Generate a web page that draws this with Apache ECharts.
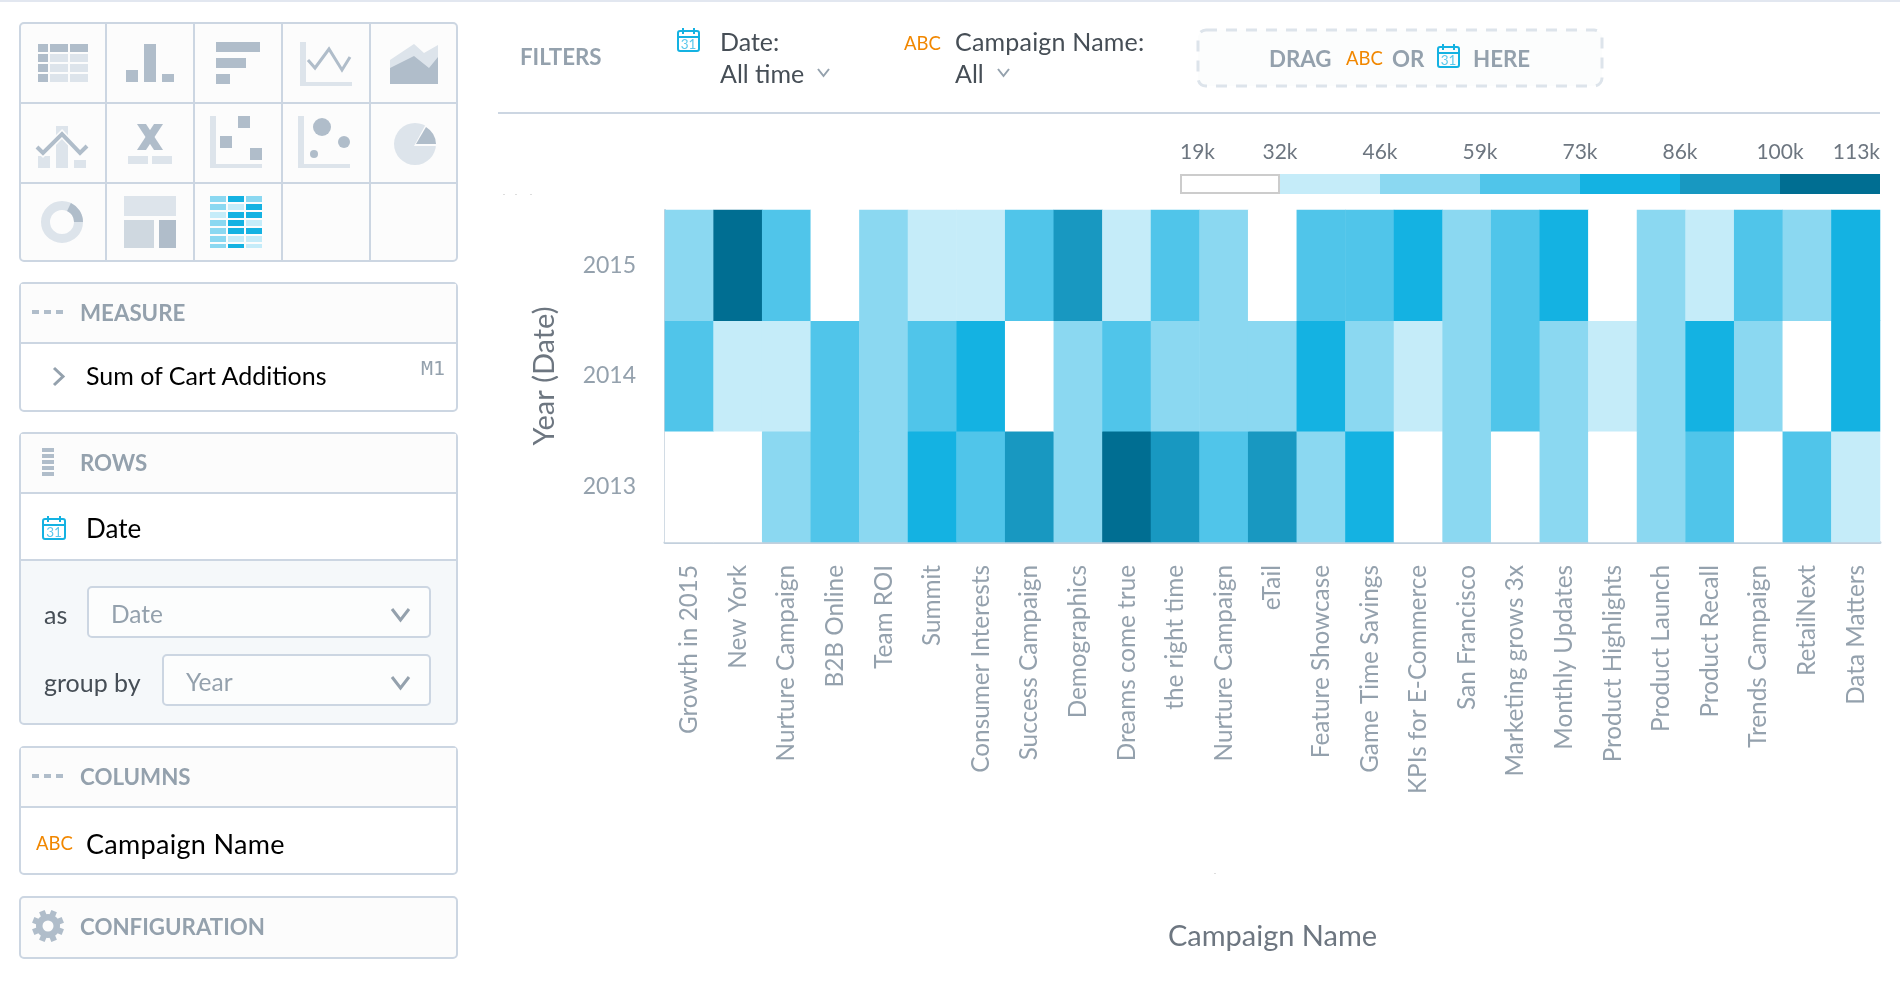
<!DOCTYPE html>
<html><head><meta charset="utf-8">
<style>
html,body{margin:0;padding:0;background:#fff;width:1900px;height:984px;overflow:hidden;font-family:Lato,sans-serif}
#chart{position:absolute;left:0;top:0;width:1900px;height:984px}
#ui{position:absolute;left:0;top:0;width:1900px;height:984px;pointer-events:none}
.box{position:absolute;box-sizing:border-box;border:2px solid #ccd6e2;border-radius:5px}
.t{position:absolute;white-space:nowrap;transform:translateY(-50%);line-height:1;margin-top:-1px}
.h{font-weight:700;font-size:22.3px;color:#94a1ad;margin-top:1px}
.b{font-size:25px;color:#000}
.d{font-size:25px;color:#464e56}
.g{font-size:24.5px;color:#94a1ad}
.a{color:#f18700;font-size:18.5px;font-weight:400;margin-top:0}
svg{position:absolute;left:0;top:0}
</style></head><body>
<div id="chart"></div>
<div id="ui"></div>
<script src="https://cdn.jsdelivr.net/npm/echarts@6/dist/echarts.min.js"></script>
<script>
const campaigns=['Growth in 2015','New York','Nurture Campaign','B2B Online','Team ROI','Summit','Consumer Interests','Success Campaign','Demographics','Dreams come true','the right time','Nurture Campaign','eTail','Feature Showcase','Game Time Savings','KPIs for E-Commerce','San Francisco','Marketing grows 3x','Monthly Updates','Product Highlights','Product Launch','Product Recall','Trends Campaign','RetailNext','Data Matters'];
const years=['2013','2014','2015'];
const values2013=[24000,26000,52000,66000,51000,78000,64000,91000,53000,107000,93000,67000,90000,50000,80000,27000,54000,25000,52000,23000,55000,65000,28000,63000,39000];
const values2014=[64000,38000,40000,66000,52000,67000,79000,28000,50000,63000,54000,53000,51000,81000,52000,37000,55000,62000,51000,41000,50000,80000,53000,25000,82000];
const values2015=[52000,108000,66000,24000,50000,38000,40000,64000,92000,36000,65000,53000,28000,67000,69000,79000,55000,62000,80000,26000,51000,39000,63000,50000,81000];
const legendBreaks=[19000,32000,46000,59000,73000,86000,100000,113000];
const legendLabels=['19k','32k','46k','59k','73k','86k','100k','113k'];
const bucketColors=['#ffffff','#c5ecf9','#8bd8f1','#50c5ea','#14b2e2','#1898c1','#006e92'];

const cells=[];
[values2013,values2014,values2015].forEach((row,y)=>row.forEach((v,x)=>cells.push([x,y,v])));

const chart=echarts.init(document.getElementById('chart'));
const legendGraphics=[];
bucketColors.forEach((c,i)=>{
  legendGraphics.push({type:'rect',shape:{x:1180+i*100+(i?0:1),y:i?174:175,width:i?100:98,height:i?20:18},
    style:{fill:c,stroke:i?null:'#cccccc',lineWidth:i?0:2},silent:true});
});
legendLabels.forEach((l,i)=>{
  const last=i===legendLabels.length-1;
  legendGraphics.push({type:'text',x:last?1880:1180+i*100,y:152,silent:true,style:{text:l,fontFamily:'Lato',fontSize:21,fill:'#6d7680',
    align:i===0?'left':(last?'right':'center'),verticalAlign:'middle'}});
});
chart.setOption({
  animation:false,
  backgroundColor:'#fff',
  grid:{left:665,right:20,top:210,bottom:442,containLabel:false},
  xAxis:{type:'category',data:campaigns,name:'Campaign Name',nameLocation:'middle',nameGap:395,
    nameTextStyle:{fontFamily:'Lato',fontSize:29,color:'#6d7680',verticalAlign:'middle'},
    axisLine:{show:true,onZero:false,lineStyle:{color:'#c3d0dd',width:3}},axisTick:{show:false},splitLine:{show:false},
    axisLabel:{interval:0,rotate:90,margin:23,fontFamily:'Lato',fontSize:24.3,color:'#94a1ad'}},
  yAxis:{type:'category',data:years,name:'Year (Date)',nameLocation:'middle',nameGap:120,nameRotate:90,
    nameTextStyle:{fontFamily:'Lato',fontSize:29,color:'#6d7680',verticalAlign:'middle'},
    axisLine:{show:true,lineStyle:{color:'#c3d0dd',width:2}},axisTick:{show:false},splitLine:{show:false},
    axisLabel:{margin:29,fontFamily:'Lato',fontSize:23,color:'#94a1ad'}},
  visualMap:{type:'piecewise',show:false,dimension:2,seriesIndex:0,
    pieces:bucketColors.map((c,i)=>({gte:legendBreaks[i],lt:legendBreaks[i+1],color:c}))},
  series:[{type:'heatmap',data:cells,itemStyle:{borderWidth:0},emphasis:{disabled:true},progressive:0}],
  graphic:legendGraphics
});

/* ---------- surrounding application chrome ---------- */
const ui=document.getElementById('ui');
const DARK='#b0bdca',LIGHT='#dde4eb',CY='#14b2e2';
function box(x,y,w,h,bg,extra){const e=document.createElement('div');e.className='box';
  e.style.cssText=`left:${x}px;top:${y}px;width:${w}px;height:${h}px;background:${bg||'#fff'};${extra||''}`;ui.appendChild(e);return e;}
function txt(s,x,y,cls,extra){const e=document.createElement('div');e.className='t '+cls;e.textContent=s;
  e.style.cssText=`left:${x}px;top:${y}px;${extra||''}`;ui.appendChild(e);return e;}

let s='';
const r=(x,y,w,h,f)=>`<rect x="${x}" y="${y}" width="${w}" height="${h}" fill="${f}"/>`;
const chev=(x,y,w,h,c,sw)=>`<polyline points="${x},${y} ${x+w/2},${y+h} ${x+w},${y}" fill="none" stroke="${c}" stroke-width="${sw}"/>`;
const cal=(x,y,w,h)=>`<g><rect x="${x+1}" y="${y+3}" width="${w-2}" height="${h-4}" rx="2" fill="none" stroke="${CY}" stroke-width="2"/>
<rect x="${x+1}" y="${y+8}" width="${w-2}" height="2" fill="${CY}"/><rect x="${x+5}" y="${y}" width="2" height="6" fill="${CY}"/><rect x="${x+w-7}" y="${y}" width="2" height="6" fill="${CY}"/>
<text x="${x+w/2}" y="${y+h-3.5}" font-size="13.5" font-family="Lato" fill="#5cc8ec" text-anchor="middle">31</text></g>`;

/* top rule & filter bar */
s+=r(0,0,1900,2,'#e2e7f0');
s+=r(498,112,1382,2,'#ccd6e2');
s+=cal(677,28,23,24);
s+=chev(818,69,11,7,'#94a1ad',2);
s+=chev(998,69,11,7,'#94a1ad',2);
s+=`<rect x="1198" y="30" width="404" height="56" rx="8" fill="#fcfdfd" stroke="#dde4eb" stroke-width="3" stroke-dasharray="11 9"/>`;
s+=cal(1437,44,23,24);
[[503,194],[515,194],[530,194],[1214,873]].forEach(p=>s+=r(p[0],p[1],2,1,'#dddddd'));

/* chart picker panel */
box(19,22,439,240,'#fcfcfc');
[105,193,281,369].forEach(x=>s+=r(x,22,2,240,'#ccd6e2'));
[102,182].forEach(y=>s+=r(19,y,439,2,'#ccd6e2'));
/* table */
[44,54,64,74].forEach((y,ri)=>[[38,10],[50,18],[70,18]].forEach((c,ci)=>s+=r(c[0],y,c[1],8,(ri===0||ci===0)?DARK:LIGHT)));
/* bars */
s+=r(126,70,12,12,DARK)+r(144,44,12,38,DARK)+r(162,74,12,8,DARK);
/* hbars */
s+=r(216,42,44,10,DARK)+r(216,58,30,10,DARK)+r(216,74,14,10,DARK);
/* line */
s+=r(300,42,6,44,LIGHT)+r(300,82,52,4,LIGHT);
s+=`<polyline points="308,60 315,68 329,49 342,70 350,57" fill="none" stroke="${DARK}" stroke-width="3"/>`;
/* area */
s+=`<polygon points="390,60 414,44 424,53 438,45 438,84 390,84" fill="${LIGHT}"/>`;
s+=`<polygon points="390,68 414,56 429,68 438,57 438,84 390,84" fill="${DARK}"/>`;
/* combo */
s+=r(38,156,12,12,LIGHT)+r(56,126,12,42,LIGHT)+r(74,160,12,8,LIGHT);
s+=`<polyline points="37,147 43,153 62,134 80,153 87,146" fill="none" stroke="#fcfcfc" stroke-width="7"/>`;
s+=`<polyline points="37,147 43,153 62,134 80,153 87,146" fill="none" stroke="${DARK}" stroke-width="4"/>`;
/* big X headline */
s+=`<polygon points="137,124 146,124 163,150 154,150" fill="${DARK}"/><polygon points="154,124 163,124 146,150 137,150" fill="${DARK}"/>`;
s+=r(128,156,20,8,LIGHT)+r(152,156,20,8,LIGHT);
/* scatter */
s+=r(210,116,6,52,LIGHT)+r(210,164,52,4,LIGHT);
s+=r(238,116,12,12,DARK)+r(220,136,12,12,DARK)+r(250,148,12,12,DARK);
/* bubble */
s+=r(298,116,6,52,LIGHT)+r(298,164,52,4,LIGHT);
s+=`<circle cx="322" cy="127" r="9" fill="${DARK}"/><circle cx="344" cy="142" r="6" fill="${DARK}"/><circle cx="314" cy="154" r="4" fill="${DARK}"/>`;
/* pie */
s+=`<circle cx="415" cy="144" r="21" fill="${LIGHT}"/>`;
s+=`<path d="M414,146 L437,146 A22 22 0 0 0 426,124 Z" fill="#fcfcfc"/><path d="M416,144 L436,144 A21 21 0 0 0 426,127 Z" fill="${DARK}"/>`;
/* donut */
s+=`<circle cx="62" cy="222" r="16.5" fill="none" stroke="${LIGHT}" stroke-width="9"/>`;
s+=`<path d="M69,207 A16.5 16.5 0 0 1 78.5,222" fill="none" stroke="${DARK}" stroke-width="9"/>`;
/* treemap */
s+=r(124,196,52,20,LIGHT)+r(124,220,30,28,'#cfd8e0')+r(159,220,17,28,DARK);
/* mini heatmap */
[[2,4,2],[2,1,4],[1,4,4],[2,4,1],[2,4,4],[2,1,1],[2,4,1]].forEach((row,ri)=>row.forEach((b,ci)=>
  s+=r([210,228,246][ci],196+ri*8,16,ri===6?4:6,bucketColors[b])));

/* MEASURE */
box(19,282,439,130,'#fff');
s+=r(21,284,435,58,'#fcfcfc')+r(19,342,439,2,'#ccd6e2');
const dash=(y)=>r(32,y,7,4,DARK)+r(44,y,7,4,DARK)+r(56,y,7,4,DARK);
s+=dash(310);
s+=`<polyline points="54,368 63,376.5 54,385" fill="none" stroke="#94a1ad" stroke-width="3"/>`;
/* ROWS */
box(19,432,439,293,'#f5f8fa');
s+=r(21,434,435,58,'#fcfcfc')+r(19,492,439,2,'#ccd6e2')+r(21,494,435,65,'#ffffff')+r(19,559,439,2,'#ccd6e2');
[448,454,460,466,472].forEach(y=>s+=r(42,y,12,4,DARK));
s+=cal(42,516,24,24);
/* selects */
[[87,586,344],[162,654,269]].forEach(b=>{
  s+=`<rect x="${b[0]+1}" y="${b[1]+1}" width="${b[2]-2}" height="50" rx="4" fill="#fcfdfd" stroke="#ccd6e2" stroke-width="2"/>`;
  s+=chev(392,b[1]+23,17,11,'#94a1ad',3);
});
/* COLUMNS */
box(19,746,439,129,'#fff');
s+=r(21,748,435,58,'#fcfcfc')+r(19,806,439,2,'#ccd6e2');
s+=dash(774);
/* CONFIGURATION */
box(19,896,439,63,'#fcfcfc');
s+=`<g fill="${DARK}"><circle cx="48" cy="926" r="12"/>`;
for(let a=0;a<8;a++) s+=`<rect x="45" y="910" width="6" height="7" transform="rotate(${a*45+22.5} 48 926)"/>`;
s+=`<circle cx="48" cy="926" r="5.5" fill="#fcfcfc"/></g>`;

const svgEl=document.createElementNS('http://www.w3.org/2000/svg','svg');
svgEl.setAttribute('width','1900');svgEl.setAttribute('height','984');svgEl.innerHTML=s;
ui.appendChild(svgEl);

txt('FILTERS',520,56,'h');
txt('Date:',720,42,'d');
txt('All time',720,74,'d');
txt('ABC',904,43,'a');
txt('Campaign Name:',955,42,'d','letter-spacing:.2px');
txt('All',955,74,'d');
txt('DRAG',1269,58,'h');
txt('ABC',1346,58,'a');
txt('OR',1392,58,'h');
txt('HERE',1473,58,'h');
txt('MEASURE',80,312,'h');
txt('Sum of Cart Additions',86,376,'b');
txt('M1',421,369,'g','font-family:"DejaVu Sans Mono";font-size:20px');
txt('ROWS',80,462,'h');
txt('Date',86,529,'b','font-size:26px');
txt('as',44,615,'d');
txt('Date',111,615,'g');
txt('group by',44,683,'d');
txt('Year',186,683,'g');
txt('COLUMNS',80,776,'h');
txt('ABC',36,843,'a');
txt('Campaign Name',86,844,'b','font-size:27px;letter-spacing:.3px');
txt('CONFIGURATION',80,926,'h');
</script>
</body></html>
